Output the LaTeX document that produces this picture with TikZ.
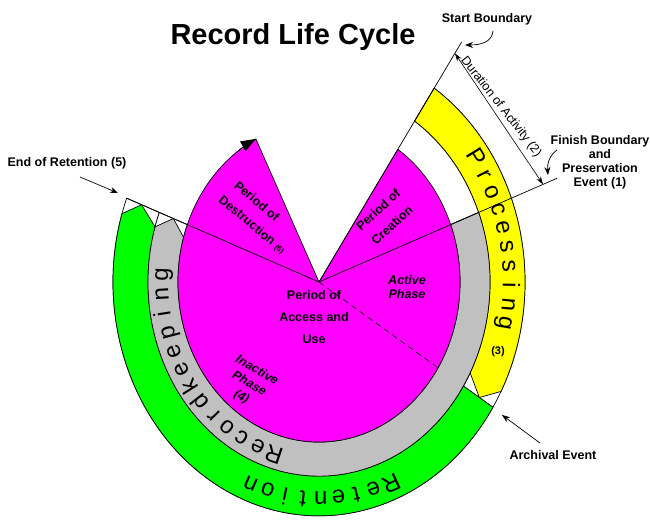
\documentclass[tikz,border=0pt]{standalone}
\usepackage{fontspec}
\setmainfont{Liberation Sans}
\usetikzlibrary{arrows.meta}
\definecolor{magc}{HTML}{FF00FF}
\definecolor{grnc}{HTML}{00FF00}
\definecolor{gryc}{HTML}{C0C0C0}
\definecolor{ylwc}{HTML}{FFFF00}
\begin{document}
\begin{tikzpicture}[x=1pt,y=1pt,
  outl/.style={draw=black,line width=0.7pt,line join=round},
  lbl/.style={font=\bfseries\fontsize{12.5}{14}\selectfont,align=center,inner sep=0pt},
  ilbl/.style={font=\bfseries\itshape\fontsize{12.5}{14}\selectfont,align=center,inner sep=0pt},
  arcletter/.style={font=\fontsize{24}{24}\selectfont,inner sep=0pt,text height=17.2pt,text depth=5pt},
  ptr/.style={-{Stealth[length=8pt,width=6pt]},line width=0.7pt},
  dimarrow/.style={{Stealth[length=8pt,width=5pt]}-{Stealth[length=8pt,width=5pt]},line width=0.6pt}]
\useasboundingbox (0,0) rectangle (650,-529);
\def\Ra{141pt}\def\Rb{171pt}\def\Rc{206pt}
\begin{scope}[shift={(319,-282)},yscale=1.135]
  % white background sectors
  \path[outl,fill=white] (-32.4:\Rb) -- (-32.4:\Rc) arc[start angle=-32.4,end angle=-201,radius=\Rc] -- (-201:\Rb) arc[start angle=-201,end angle=-32.4,radius=\Rb] -- cycle;
  \path[outl,fill=white] (56:\Rb) -- (56:\Rc) arc[start angle=56,end angle=-32.4,radius=\Rc] -- (-32.4:\Rb) arc[start angle=-32.4,end angle=56,radius=\Rb] -- cycle;
  \path[outl,fill=white] (21:\Ra) -- (21:\Rb) arc[start angle=21,end angle=-201,radius=\Rb] -- (-201:\Ra) arc[start angle=-201,end angle=21,radius=\Ra] -- cycle;
  % green retention arrow
  \path[outl,fill=grnc] (-32.4:\Rb) -- (-32.4:\Rc) arc[start angle=-32.4,end angle=-197,radius=\Rc] -- (-201:190pt) -- (-196.5:\Rb) arc[start angle=-196.5,end angle=-32.4,radius=\Rb] -- cycle;
  % yellow processing arrow
  \path[outl,fill=ylwc] (56:\Rb) -- (56:\Rc) arc[start angle=56,end angle=-27.9,radius=\Rc] -- (-32.4:190pt) -- (-27.9:\Rb) arc[start angle=-27.9,end angle=56,radius=\Rb] -- cycle;
  % gray recordkeeping arrow
  \path[outl,fill=gryc] (21:\Ra) -- (21:\Rb) arc[start angle=21,end angle=-196.5,radius=\Rb] -- (-201:156pt) -- (-196.2:\Ra) arc[start angle=-196.2,end angle=21,radius=\Ra] -- cycle;
  % magenta pie
  \coordinate (C) at (0,0);
  \path[outl,fill=magc] (C) -- (56:\Ra) arc[start angle=56,end angle=-243.4,radius=\Ra] -- cycle;
  % boundary lines
  \coordinate (S) at (56:255pt);
  \coordinate (F) at (21:255pt);
  \coordinate (E) at (159:\Rc);
  \coordinate (A) at (-32.4:\Ra);
  \coordinate (D1) at (56:243pt);
  \coordinate (D2) at (21:240pt);
  \draw[line width=0.7pt] (C) -- (S);
  \draw[line width=0.7pt] (C) -- (F);
  \draw[line width=0.7pt] (C) -- (E);
  \draw[line width=0.6pt,dash pattern=on 6pt off 4pt] (C) -- (A);
  \draw[dimarrow] (D1) -- (D2);
  % destruction arrowhead
  \draw[line width=0.7pt,-{Triangle[length=15pt,width=11pt]}] (125:\Ra) arc[start angle=125,end angle=116.6,radius=\Ra];
  % arc letters
  \foreach \ch [count=\i from 0] in {P,r,o,c,e,s,s,i,n,g} {
    \pgfmathsetmacro\ang{34.9-5.11*\i}
    \pgfmathsetmacro\rot{atan2(-1.135*cos(\ang),sin(\ang))}
    \node[arcletter,rotate=\rot] (proc\i) at (\ang:190pt) {\ch};
  }
  \foreach \ch [count=\i from 0] in {R,e,t,e,n,t,i,o,n} {
    \pgfmathsetmacro\ang{-68-5.375*\i}
    \pgfmathsetmacro\rot{atan2(-1.135*cos(\ang),sin(\ang))}
    \node[arcletter,rotate=\rot] (ret\i) at (\ang:190pt) {\ch};
  }
  \foreach \ch [count=\i from 0] in {R,e,c,o,r,d,k,e,e,p,i,n,g} {
    \pgfmathsetmacro\ang{-106.5-6.33*\i}
    \pgfmathsetmacro\rot{atan2(-1.135*cos(\ang),sin(\ang))}
    \node[arcletter,rotate=\rot] (rec\i) at (\ang:157pt) {\ch};
  }
\end{scope}
% title
\node[font=\bfseries\fontsize{29}{30}\selectfont,inner sep=0pt] (title) at (293,-37) {Record Life Cycle};
% outside labels
\node[lbl] (startlbl) at (487,-19) {Start Boundary};
\node[lbl] (finishlbl) at (600,-162.5) {Finish Boundary\\and\\Preservation\\Event (1)};
\node[lbl] (eorlbl) at (67,-163) {End of Retention (5)};
\node[lbl] (archlbl) at (553,-455) {Archival Event};
\node[font=\fontsize{12.5}{14}\selectfont,inner sep=0pt,rotate=-52] (durlbl) at (501,-107) {Duration of Activity (2)};
% annotation pointers
\coordinate (sbs) at (493,-31);
\coordinate (sbe) at (465,-45);
\coordinate (fbs) at (557,-150);
\coordinate (fbe) at (548,-175);
\coordinate (eos) at (80,-177);
\coordinate (eoe) at (118,-193);
\coordinate (aes) at (540,-443);
\coordinate (aee) at (502,-415);
\draw[ptr] (sbs) .. controls (492,-42) and (481,-45) .. (sbe);
\draw[ptr] (fbs) .. controls (550,-155) and (547,-163) .. (fbe);
\draw[ptr] (eos) -- (eoe);
\draw[ptr] (aes) -- (aee);
% inner labels
\node[lbl,font=\bfseries\fontsize{12.5}{20.5}\selectfont,rotate=42] (crelbl) at (385,-217.5) {Period of\\Creation};
\node[lbl,rotate=-40] (deslbl1) at (257,-201) {Period of};
\node[lbl,rotate=-40] (deslbl2) at (252,-225) {Destruction {\fontsize{8}{8}\selectfont(6)}};
\node[ilbl] (actlbl) at (407,-287) {Active\\Phase};
\node[lbl,font=\bfseries\fontsize{12.5}{22}\selectfont] (acclbl) at (314,-317) {Period of\\Access and\\Use};
\node[ilbl,font=\bfseries\itshape\fontsize{12.5}{15.5}\selectfont,rotate=-30] (inalbl) at (249,-384) {Inactive\\Phase\\(4)};
\node[lbl,font=\bfseries\fontsize{11}{12}\selectfont] (proclbl) at (498,-352) {(3)};
\end{tikzpicture}
\end{document}
